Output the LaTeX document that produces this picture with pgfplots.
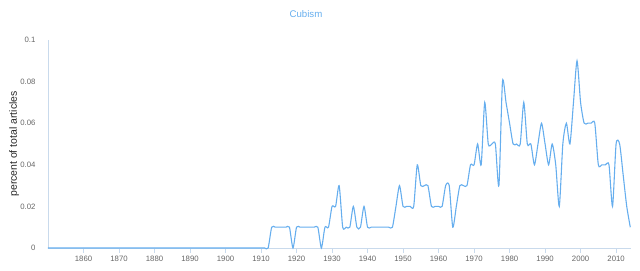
\documentclass[border=0pt]{standalone}
\usepackage{fontspec}
\setmainfont{Liberation Sans}
\usepackage{pgfplots}
\pgfplotsset{compat=1.18}
\usepackage{pgfplotstable}
\definecolor{lineblue}{HTML}{66AEEE}
\definecolor{axisblue}{HTML}{C9DAEC}
\definecolor{ticklab}{HTML}{666666}
\pgfplotstableread{
year val
1850 0
1855 0
1860 0
1865 0
1870 0
1875 0
1880 0
1885 0
1890 0
1895 0
1900 0
1905 0
1910 0
1911 0
1912 0
1913 0.01
1914 0.01
1915 0.01
1916 0.01
1917 0.01
1918 0.01
1919 0
1920 0.01
1921 0.01
1922 0.01
1923 0.01
1924 0.01
1925 0.01
1926 0.01
1927 0
1928 0.01
1929 0.01
1930 0.02
1931 0.02
1932 0.03
1933 0.01
1934 0.01
1935 0.01
1936 0.02
1937 0.01
1938 0.01
1939 0.02
1940 0.01
1941 0.01
1942 0.01
1943 0.01
1944 0.01
1945 0.01
1946 0.01
1947 0.01
1948 0.02
1949 0.03
1950 0.02
1951 0.02
1952 0.02
1953 0.02
1954 0.04
1955 0.03
1956 0.03
1957 0.03
1958 0.02
1959 0.02
1960 0.02
1961 0.02
1962 0.03
1963 0.03
1964 0.01
1965 0.02
1966 0.03
1967 0.03
1968 0.03
1969 0.04
1970 0.04
1971 0.05
1972 0.04
1973 0.07
1974 0.05
1975 0.05
1976 0.05
1977 0.03
1978 0.08
1979 0.07
1980 0.06
1981 0.05
1982 0.05
1983 0.05
1984 0.07
1985 0.05
1986 0.05
1987 0.04
1988 0.05
1989 0.06
1990 0.05
1991 0.04
1992 0.05
1993 0.04
1994 0.02
1995 0.05
1996 0.06
1997 0.05
1998 0.07
1999 0.09
2000 0.07
2001 0.06
2002 0.06
2003 0.06
2004 0.06
2005 0.04
2006 0.04
2007 0.04
2008 0.04
2009 0.02
2010 0.05
2011 0.05
2012 0.035
2013 0.02
2014 0.01
}\cubism
\begin{document}
\begin{tikzpicture}
\useasboundingbox (-48bp,-23bp) rectangle (592bp,248bp);
\begin{axis}[
  scale only axis,
  width=583bp, height=208bp,
  xmin=1850, xmax=2014.2,
  ymin=0, ymax=0.1,
  axis x line*=bottom,
  axis y line*=left,
  axis line style={axisblue, line width=0.8pt},
  xtick={1860,1870,...,2010},
  ytick={0,0.02,0.04,0.06,0.08,0.1},
  yticklabels={0,0.02,0.04,0.06,0.08,0.1},
  x tick label style={/pgf/number format/1000 sep={}},
  /pgf/number format/assume math mode=true,
  xtick align=outside,
  major tick length=4.5bp,
  xtick style={axisblue, line width=0.6pt},
  ytick style={draw=none},
  scaled y ticks=false,
  tick label style={font=\fontsize{7.8}{8}\selectfont, text=ticklab},
  xticklabel style={yshift=-0.5bp},
  yticklabel style={anchor=east, xshift=-9bp},
  ylabel={percent of total articles},
  ylabel style={font=\fontsize{10.5}{12}\selectfont, text=black!85, at={(axis description cs:-0.058,0.5)}, anchor=center},
  title={Cubism},
  title style={font=\fontsize{9.7}{11}\selectfont, text=lineblue, at={(axis description cs:0.4425,1)}, anchor=center, yshift=20bp},
  clip=false,
]
\addplot[lineblue, line width=1.1pt, smooth, tension=0.4, mark=none] table[x=year, y=val] {\cubism};
\end{axis}
\end{tikzpicture}
\end{document}
